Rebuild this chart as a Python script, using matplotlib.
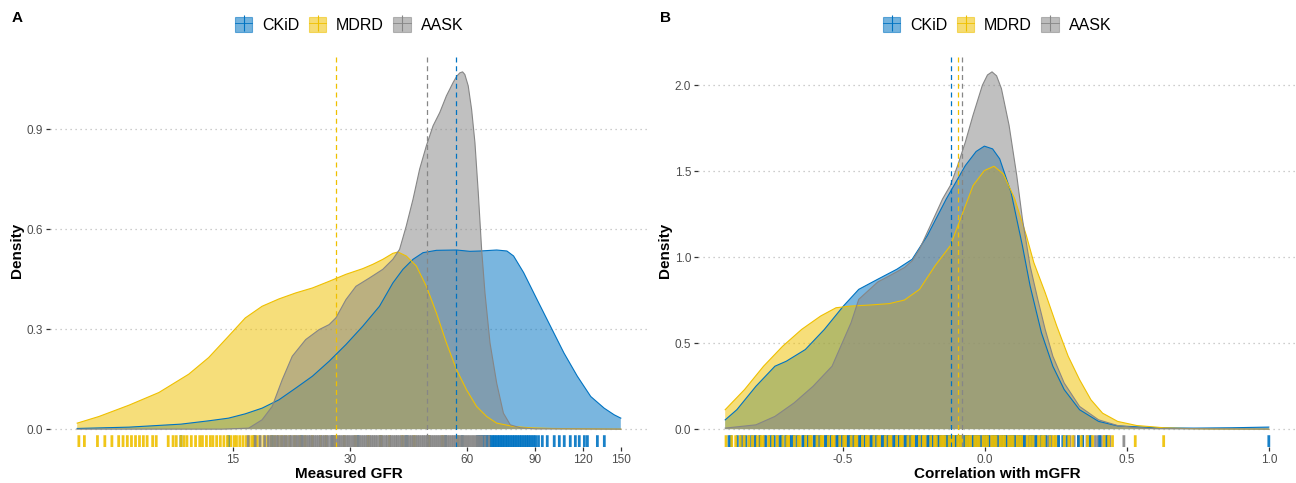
import numpy as np
import matplotlib.pyplot as plt
from matplotlib.patches import Patch
from matplotlib.lines import Line2D
from matplotlib.ticker import NullLocator
from matplotlib.transforms import blended_transform_factory

plt.rcParams['font.family'] = ['Liberation Sans', 'DejaVu Sans']

cohorts = ['CKiD', 'MDRD', 'AASK']
colors = {'CKiD': '#0073C2', 'MDRD': '#EFC000', 'AASK': '#868686'}

# ---- Panel A: measured GFR density (log x) ----
gfr_ckid_x = [5.94, 8.08, 11.0, 12.97, 14.59, 16.12, 17.81, 19.68, 21.74, 24.02, 26.53, 29.31,
              32.38, 35.77, 38.73, 41.12, 43.65, 46.33, 50.17, 56.52, 61.21, 64.97, 71.77,
              76.25, 79.34, 84.23, 91.22, 98.78, 106.97, 115.85, 125.46, 135.87, 144.22, 150.0]
gfr_ckid_y = [0.002, 0.006, 0.015, 0.025, 0.033, 0.046, 0.063, 0.088, 0.123, 0.159, 0.204, 0.254,
              0.309, 0.369, 0.439, 0.480, 0.510, 0.530, 0.537, 0.538, 0.534, 0.535, 0.538,
              0.535, 0.520, 0.470, 0.389, 0.309, 0.229, 0.159, 0.098, 0.063, 0.043, 0.033]

gfr_mdrd_x = [5.94, 6.76, 8.08, 9.65, 11.52, 12.97, 14.59, 16.12, 17.81, 19.68, 21.74, 24.02,
              26.53, 29.31, 32.38, 34.38, 36.49, 38.73, 39.91, 41.94, 44.53, 47.26, 50.17,
              53.24, 56.52, 60.0, 63.69, 67.61, 71.77, 79.34, 87.68, 100.0, 150.0]
gfr_mdrd_y = [0.018, 0.038, 0.072, 0.110, 0.165, 0.215, 0.279, 0.334, 0.369, 0.391, 0.409, 0.424,
              0.444, 0.465, 0.482, 0.495, 0.510, 0.528, 0.532, 0.520, 0.490, 0.429, 0.349,
              0.259, 0.179, 0.118, 0.068, 0.038, 0.018, 0.008, 0.004, 0.002, 0.0]

gfr_aask_x = [5.94, 14.0, 16.45, 17.81, 18.91, 20.07, 21.31, 23.08, 25.0, 26.53, 27.61, 29.31,
              31.11, 33.70, 36.49, 38.73, 40.31, 41.94, 43.65, 45.41, 47.26, 49.18, 51.18,
              53.24, 55.40, 56.6, 57.65, 58.6, 59.40, 60.60, 61.82, 63.06, 64.33, 65.62,
              66.94, 68.97, 71.77, 74.69, 77.78, 82.57, 90.0, 150.0]
gfr_aask_y = [0.0, 0.0, 0.003, 0.028, 0.068, 0.148, 0.219, 0.269, 0.299, 0.314, 0.334, 0.389,
              0.429, 0.454, 0.480, 0.510, 0.540, 0.610, 0.690, 0.781, 0.851, 0.911, 0.951,
              1.001, 1.041, 1.060, 1.070, 1.073, 1.065, 1.031, 0.961, 0.861, 0.710, 0.540,
              0.409, 0.259, 0.138, 0.048, 0.013, 0.004, 0.001, 0.0]

gfr_means = {'CKiD': 56.5, 'MDRD': 27.7, 'AASK': 47.5}

gfr_rug_ckid = [11.0, 14.6, 17.0, 18.9, 22.5, 27.0, 31.5, 36.0, 42.0, 48.0, 53.0, 58.5,
                64.0, 64.6, 65.2, 65.8, 66.4, 67.0, 67.6, 68.2, 68.9, 69.5, 70.2, 70.8, 71.5,
                72.2, 72.9, 73.6, 74.3, 75.0, 75.8, 76.5, 77.3, 78.1, 78.9, 79.7, 80.5, 81.3,
                82.2, 83.0, 83.9, 84.8, 85.7, 86.6, 87.5, 88.5, 89.5, 90.5, 92.0, 94.1, 96.9,
                101.0, 104.1, 107.2, 111.1, 114.5, 117.2, 120.8, 123.0, 130.5, 136.0]
gfr_rug_mdrd = [6.0, 6.2, 6.7, 7.0, 7.3, 7.6, 7.8, 8.0, 8.2, 8.4, 8.6, 8.8, 9.0, 9.3, 9.5,
                10.2, 10.5, 10.7, 11.0, 11.2, 11.4, 11.7, 12.0, 12.3, 12.5, 12.8, 13.1, 13.3,
                13.6, 13.9, 14.2, 14.5, 14.8, 15.1, 15.3, 15.6, 15.9, 16.2, 16.5, 16.8, 17.0,
                17.3, 17.6, 18.0, 18.4, 18.8, 19.2, 19.6, 20.0, 20.5, 21.0, 21.6, 22.3, 23.0,
                24.0, 25.2, 26.0, 27.4, 29.0, 31.0, 33.5, 36.0, 38.0, 41.0, 44.0, 48.0, 52.0, 57.0]
gfr_rug_aask = [16.4, 17.1, 17.6, 18.1, 18.5, 18.8, 19.1, 19.4, 19.6, 19.9, 20.2, 20.4, 20.7,
                21.0, 21.2, 21.5, 21.8, 22.0, 22.3, 22.6, 22.9, 23.2, 23.5, 23.7, 24.0, 24.3,
                24.6, 24.9, 25.2, 25.5, 25.8, 26.1, 26.4, 26.8, 27.1, 27.4, 27.8, 28.1, 28.4,
                28.8, 29.1, 29.5, 29.8, 30.2, 30.6, 30.9, 31.3, 31.7, 32.1, 32.5, 32.9, 33.3,
                33.7, 34.1, 34.5, 34.9, 35.3, 35.8, 36.2, 36.6, 37.1, 37.5, 38.0, 38.4, 38.9,
                39.4, 39.8, 40.3, 40.8, 41.3, 41.8, 42.3, 42.8, 43.3, 43.8, 44.4, 44.9, 45.4,
                46.0, 46.5, 47.1, 47.6, 48.2, 48.8, 49.4, 50.0, 50.6, 51.2, 51.8, 52.4, 53.0,
                53.7, 54.3, 55.0, 55.6, 56.3, 57.0, 57.7, 58.4, 59.1, 59.8, 60.5, 61.2, 62.0,
                62.7, 63.5, 64.2, 65.0, 65.8, 67.0, 68.5]

# ---- Panel B: correlation with mGFR density ----
cor_ckid_x = [-0.913, -0.872, -0.805, -0.738, -0.698, -0.631, -0.564, -0.497, -0.443, -0.376,
              -0.309, -0.255, -0.202, -0.135, -0.068, -0.030, -0.001, 0.028, 0.053, 0.093,
              0.133, 0.160, 0.200, 0.240, 0.280, 0.334, 0.401, 0.468, 0.602, 0.736, 0.870, 1.0]
cor_ckid_y = [0.054, 0.113, 0.249, 0.366, 0.395, 0.463, 0.580, 0.716, 0.813, 0.872,
              0.930, 0.988, 1.125, 1.339, 1.533, 1.615, 1.646, 1.630, 1.572, 1.377,
              1.066, 0.833, 0.560, 0.366, 0.230, 0.113, 0.045, 0.019, 0.008, 0.006, 0.008, 0.012]

cor_mdrd_x = [-0.913, -0.845, -0.778, -0.711, -0.644, -0.577, -0.523, -0.470, -0.403, -0.336,
              -0.282, -0.229, -0.175, -0.121, -0.081, -0.041, -0.001, 0.033, 0.066, 0.106,
              0.147, 0.173, 0.213, 0.254, 0.294, 0.334, 0.374, 0.415, 0.468, 0.535, 0.602,
              0.629, 0.70, 0.80, 1.0]
cor_mdrd_y = [0.113, 0.230, 0.366, 0.482, 0.580, 0.658, 0.706, 0.716, 0.722, 0.730,
              0.751, 0.813, 0.949, 1.066, 1.241, 1.416, 1.504, 1.529, 1.484, 1.339,
              1.125, 0.969, 0.794, 0.599, 0.424, 0.288, 0.171, 0.093, 0.045, 0.021, 0.012,
              0.008, 0.004, 0.001, 0.0]

cor_aask_x = [-0.913, -0.805, -0.738, -0.671, -0.604, -0.537, -0.470, -0.443, -0.376, -0.336,
              -0.282, -0.255, -0.229, -0.202, -0.175, -0.148, -0.121, -0.095, -0.068, -0.041,
              -0.008, 0.010, 0.026, 0.042, 0.059, 0.086, 0.113, 0.133, 0.160, 0.187, 0.213,
              0.240, 0.280, 0.334, 0.401, 0.468, 0.535, 0.60, 1.0]
cor_aask_y = [0.006, 0.025, 0.074, 0.152, 0.249, 0.366, 0.619, 0.755, 0.856, 0.891,
              0.940, 0.979, 1.047, 1.144, 1.241, 1.339, 1.416, 1.533, 1.669, 1.825,
              2.000, 2.060, 2.078, 2.055, 1.981, 1.767, 1.475, 1.222, 0.949, 0.755, 0.580,
              0.424, 0.268, 0.132, 0.054, 0.021, 0.008, 0.003, 0.0]

cor_means = {'CKiD': -0.12, 'MDRD': -0.093, 'AASK': -0.08}

cor_rug_ckid = [-0.90, -0.87, -0.84, -0.82, -0.79, -0.77, -0.74, -0.72, -0.70, -0.68, -0.66,
                -0.64, -0.62, -0.60, -0.58, -0.56, -0.54, -0.52, -0.50, -0.48, -0.46, -0.44,
                -0.42, -0.40, -0.38, -0.36, -0.34, -0.32, -0.30, -0.28, -0.26, -0.24, -0.22,
                -0.20, -0.185, -0.17, -0.155, -0.14, -0.125, -0.115, -0.10, -0.085, -0.07,
                -0.055, -0.04, -0.03, -0.015, 0.0, 0.015, 0.03, 0.045, 0.06, 0.075, 0.09,
                0.105, 0.12, 0.14, 0.16, 0.18, 0.20, 0.23, 0.26, 0.29, 0.33, 0.37, 0.43, 1.0,
                -0.893, -0.857, -0.806, -0.753, -0.713, -0.673, -0.633, -0.593, -0.553, -0.513,
                -0.473, -0.433, -0.393, -0.353, -0.313, -0.273, -0.233, -0.193, -0.163, -0.133,
                -0.092, -0.062, -0.022, 0.008, 0.038, 0.068, 0.098, 0.128, 0.168, 0.215, 0.275,
                0.345, 0.405]
cor_rug_mdrd = [-0.91, -0.89, -0.86, -0.83, -0.80, -0.78, -0.76, -0.73, -0.71, -0.69, -0.67,
                -0.65, -0.63, -0.61, -0.59, -0.57, -0.55, -0.53, -0.51, -0.49, -0.47, -0.45,
                -0.43, -0.41, -0.39, -0.37, -0.35, -0.33, -0.31, -0.29, -0.27, -0.25, -0.23,
                -0.21, -0.19, -0.17, -0.155, -0.14, -0.125, -0.11, -0.095, -0.08, -0.065,
                -0.05, -0.035, -0.02, -0.005, 0.01, 0.025, 0.04, 0.055, 0.07, 0.085, 0.10,
                0.115, 0.13, 0.15, 0.17, 0.19, 0.21, 0.23, 0.25, 0.28, 0.31, 0.34, 0.38,
                0.42, 0.45, 0.53, 0.63,
                -0.876, -0.846, -0.817, -0.787, -0.746, -0.696, -0.656, -0.616, -0.576, -0.536,
                -0.496, -0.456, -0.416, -0.376, -0.336, -0.296, -0.256, -0.216, -0.176, -0.147,
                -0.117, -0.087, -0.057, -0.027, 0.003, 0.033, 0.063, 0.093, 0.123, 0.161, 0.201,
                0.242, 0.296, 0.362, 0.436]
cor_rug_aask = [-0.85, -0.81, -0.775, -0.745, -0.715, -0.685, -0.655, -0.625, -0.60, -0.575,
                -0.55, -0.525, -0.505, -0.485, -0.465, -0.445, -0.425, -0.405, -0.385, -0.365,
                -0.345, -0.325, -0.305, -0.285, -0.265, -0.245, -0.225, -0.205, -0.19, -0.175,
                -0.16, -0.145, -0.13, -0.12, -0.105, -0.09, -0.075, -0.06, -0.05, -0.035,
                -0.02, -0.01, 0.005, 0.02, 0.035, 0.05, 0.065, 0.08, 0.095, 0.11, 0.125,
                0.145, 0.165, 0.185, 0.21, 0.235, 0.26, 0.30, 0.33, 0.36, 0.39, 0.41, 0.43, 0.49,
                -0.829, -0.792, -0.759, -0.729, -0.699, -0.669, -0.639, -0.612, -0.587, -0.562,
                -0.539, -0.514, -0.494, -0.474, -0.454, -0.434, -0.414, -0.394, -0.374, -0.354,
                -0.334, -0.314, -0.294, -0.274, -0.254, -0.234, -0.214, -0.197, -0.182, -0.167,
                -0.152, -0.137, -0.111, -0.097, -0.082, -0.067, -0.042, -0.027, -0.004, 0.012,
                0.027, 0.042, 0.057, 0.072, 0.087, 0.102, 0.117, 0.135, 0.155, 0.175, 0.197,
                0.222, 0.248, 0.28, 0.315, 0.345, 0.375, 0.40, 0.42, 0.44]

panels = [
    dict(label='A', xlabel='Measured GFR', log=True,
         curves={'CKiD': (gfr_ckid_x, gfr_ckid_y), 'MDRD': (gfr_mdrd_x, gfr_mdrd_y),
                 'AASK': (gfr_aask_x, gfr_aask_y)},
         rugs={'CKiD': gfr_rug_ckid, 'MDRD': gfr_rug_mdrd, 'AASK': gfr_rug_aask},
         rug_order=['CKiD', 'MDRD', 'AASK'],
         means=gfr_means, xticks=[15, 30, 60, 90, 120, 150],
         xticklabels=['15', '30', '60', '90', '120', '150'],
         yticks=[0, 0.3, 0.6, 0.9]),
    dict(label='B', xlabel='Correlation with mGFR', log=False,
         curves={'CKiD': (cor_ckid_x, cor_ckid_y), 'MDRD': (cor_mdrd_x, cor_mdrd_y),
                 'AASK': (cor_aask_x, cor_aask_y)},
         rugs={'CKiD': cor_rug_ckid, 'MDRD': cor_rug_mdrd, 'AASK': cor_rug_aask},
         rug_order=['AASK', 'CKiD', 'MDRD'],
         means=cor_means, xticks=[-0.5, 0.0, 0.5, 1.0],
         xticklabels=['-0.5', '0.0', '0.5', '1.0'],
         yticks=[0, 0.5, 1.0, 1.5, 2.0]),
]

W, H = 1296, 483
fig = plt.figure(figsize=(W / 100, H / 100), dpi=100)
ax_lefts = [50, 698]

for p, left in zip(panels, ax_lefts):
    ax = fig.add_axes([left / W, 36 / H, 598 / W, 393 / H])
    if p['log']:
        ax.set_xscale('log')

    for c in cohorts:
        x, y = p['curves'][c]
        ax.fill_between(x, y, 0, facecolor=colors[c], alpha=0.52, lw=0)
        ax.plot(x, y, color=colors[c], lw=0.8)

    # rug along the bottom of the panel
    trans = blended_transform_factory(ax.transData, ax.transAxes)
    for c in p['rug_order']:
        ax.vlines(p['rugs'][c], 0, 0.03, transform=trans, colors=colors[c],
                  lw=2.0, alpha=0.9, snap=False)

    for c in cohorts:
        ax.axvline(p['means'][c], color=colors[c], lw=0.9, ls=(0, (4, 3)))

    # ggplot-style 5% expansion
    allx = np.concatenate([p['curves'][c][0] for c in cohorts])
    ymax = max(max(p['curves'][c][1]) for c in cohorts)
    lo, hi = allx.min(), allx.max()
    if p['log']:
        llo, lhi = np.log(lo), np.log(hi)
        pad = 0.05 * (lhi - llo)
        ax.set_xlim(np.exp(llo - pad), np.exp(lhi + pad))
    else:
        pad = 0.05 * (hi - lo)
        ax.set_xlim(lo - pad, hi + pad)
    ax.set_ylim(-0.05 * ymax, 1.05 * ymax)

    ax.set_xticks(p['xticks'])
    ax.set_xticklabels(p['xticklabels'])
    ax.xaxis.set_minor_locator(NullLocator())
    ax.set_yticks(p['yticks'])
    ax.set_yticklabels([f'{v:.1f}' for v in p['yticks']])
    ax.tick_params(length=3, width=0.9, color='#333333', labelsize=8.5,
                   labelcolor='#4D4D4D', pad=2)
    for s in ax.spines.values():
        s.set_visible(False)
    ax.yaxis.grid(True, ls=(0, (1, 3)), color='#BDBDBD', lw=0.9)
    ax.set_axisbelow(True)

    ax.set_xlabel(p['xlabel'], fontsize=11, fontweight='bold', labelpad=1)
    ax.set_ylabel('Density', fontsize=11, fontweight='bold', labelpad=2)

    handles = []
    for c in cohorts:
        handles.append((Patch(facecolor=colors[c], alpha=0.55, edgecolor=colors[c], lw=0.8),
                        Line2D([], [], color=colors[c], lw=0.6),
                        Line2D([], [], color=colors[c], marker='|', ls='none',
                               markersize=12, markeredgewidth=0.8)))
    ax.legend(handles, cohorts, loc='center', bbox_to_anchor=(0.5, 1 + 29 / 393),
              ncol=3, frameon=False, fontsize=11.5, handlelength=1.1, handleheight=1.1,
              handletextpad=0.6, columnspacing=0.6, borderaxespad=0)

    fig.text((left - 38) / W, 1 - 18 / H, p['label'], fontsize=11, fontweight='bold',
             ha='left', va='center')

fig.savefig('out.png', dpi=100)
